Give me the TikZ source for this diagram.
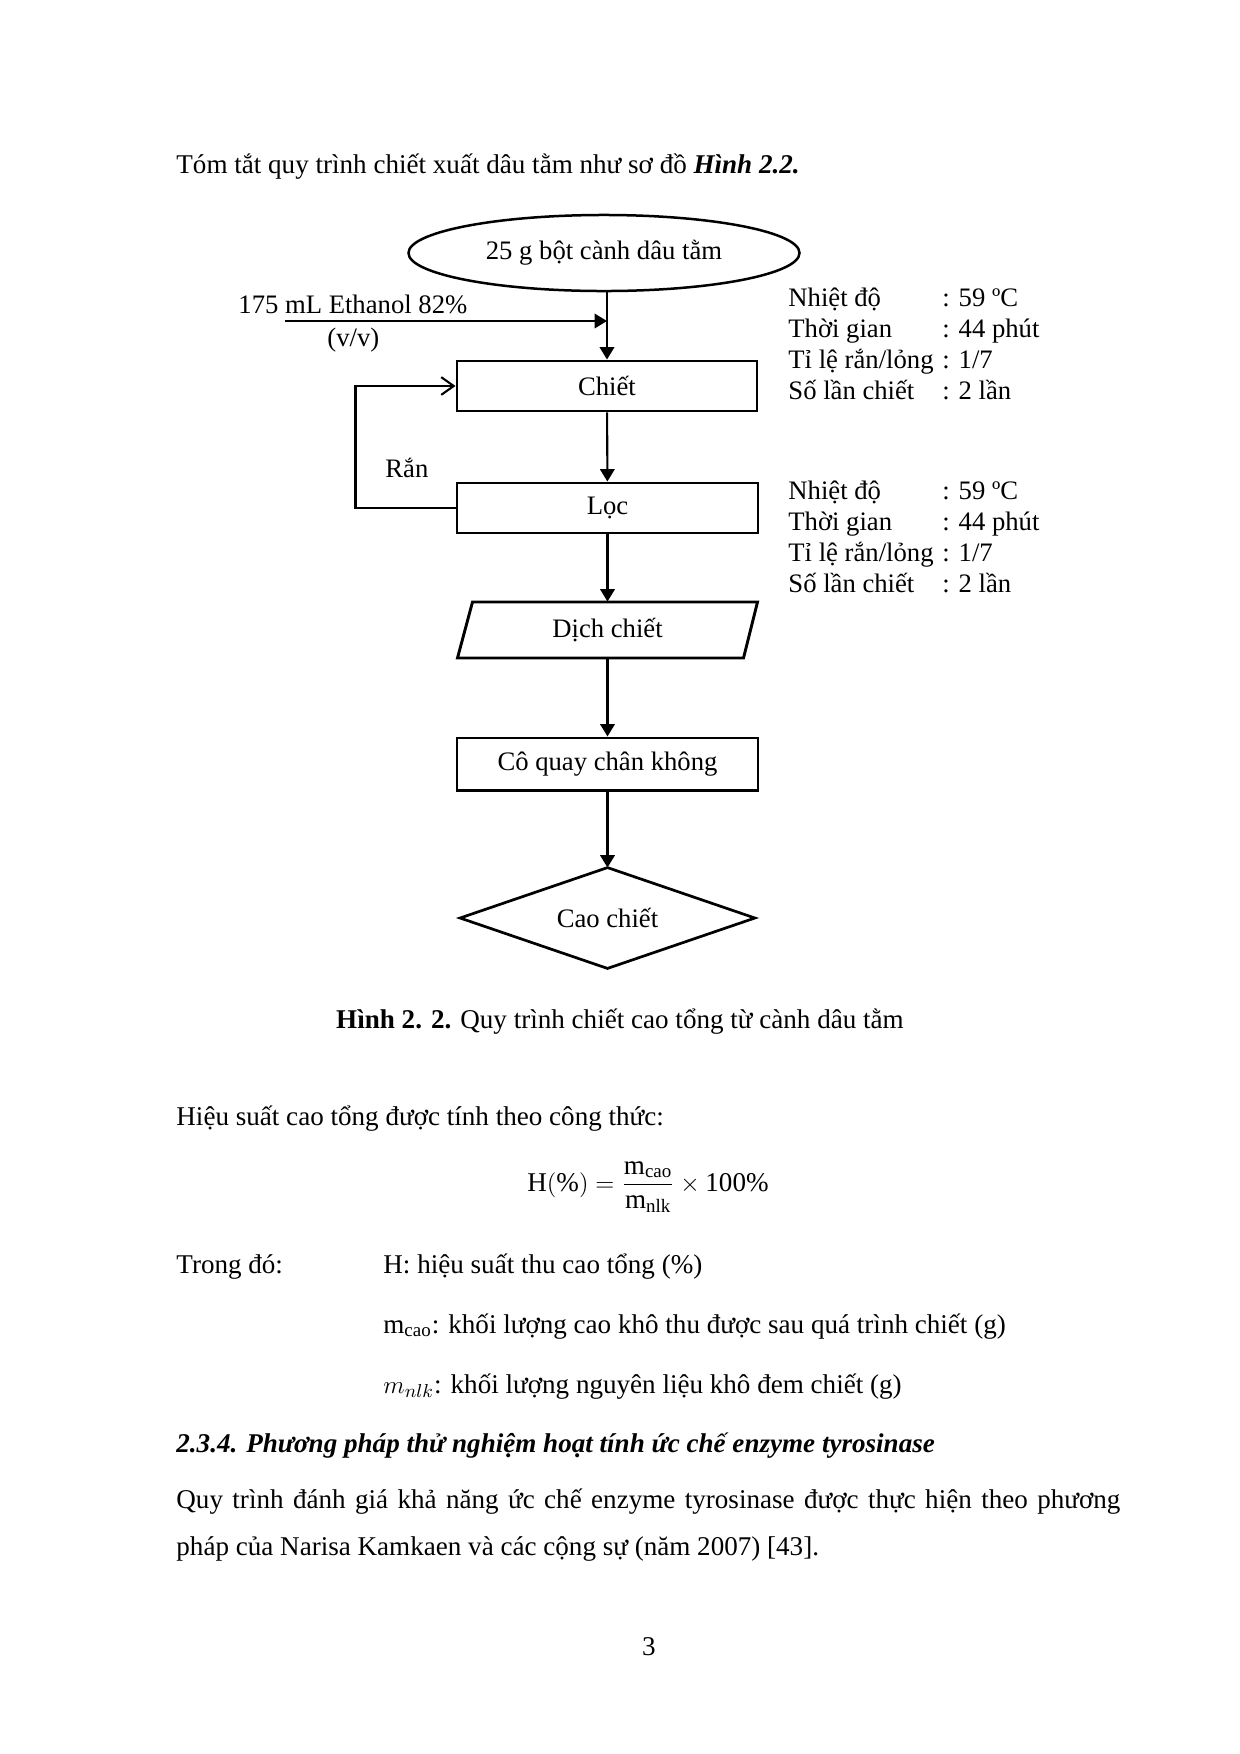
\documentclass[tikz,border=0pt]{standalone}
\usepackage{fontspec}
\setmainfont{Liberation Serif}
\usetikzlibrary{shapes.geometric,arrows.meta,calc}
\begin{document}
\begin{tikzpicture}[x=0.48pt,y=-0.48pt,
  diag/.style={font=\fontsize{12.8pt}{15pt}\selectfont},
  lbl/.style={diag, anchor=base west, inner sep=0},
  body/.style={font=\fontsize{13pt}{15.6pt}\selectfont, anchor=base west, inner sep=0},
  procbox/.style={draw, line width=1.4pt, inner sep=0, diag, minimum height=24pt},
  arr/.style={line width=1pt, -{Triangle[length=6pt,width=7pt]}},
  openarr/.style={line width=1pt, -{Straight Barb[length=6pt,width=8.5pt]}}]
\useasboundingbox[fill=white] (0,0) rectangle (1240,1754);

% ---- text above
\node[body] (intro) at (176,173) {Tóm tắt quy trình chiết xuất dâu tằm như sơ đồ \textbf{\textit{Hình 2.2.}}};

% ---- flowchart
\node[ellipse, draw, line width=1.2pt, minimum width=187.7pt, minimum height=36.5pt, inner sep=0, diag] (src) at (604,253) {25 g bột cành dâu tằm};
\node[procbox, minimum width=144pt] (chiet) at (607,386) {Chiết};
\node[procbox, minimum width=144.5pt] (loc) at (607.5,508) {Lọc};
\node[diag, minimum width=130pt, minimum height=26.9pt, inner sep=0] (dich) at (607.5,630) {Dịch chiết};
\draw[line width=1.4pt] ($(dich)+(-150,28)$) -- ($(dich)+(136,28)$) -- ($(dich)+(150,-28)$) -- ($(dich)+(-135,-28)$) -- cycle;
\node[procbox, minimum width=144.5pt, minimum height=25pt] (coquay) at (607.5,764) {Cô quay chân không};
\node[diag, minimum width=141.1pt, minimum height=48pt, inner sep=0] (cao) at (607.5,918) {Cao chiết};
\draw[line width=1.3pt] (cao.north) -- (cao.east) -- (cao.south) -- (cao.west) -- cycle;

% ethanol input
\coordinate (eth) at (285,321);
\node[lbl] (ethlbl) at (238,313) {175 mL Ethanol 82\%};
\node[lbl] (vv) at (327,346) {(v/v)};
\node[lbl] (ran) at (385,477) {Rắn};

% connectors
\draw[arr] (chiet |- src.south) -- (chiet.north);
\draw[arr] (eth) -- (eth -| chiet);
\draw[arr] (chiet) -- (loc);
\draw[openarr] (loc.west) -- ++(-100,0) |- (chiet.west);
\draw[arr] (loc) -- (dich);
\draw[arr] (dich) -- (coquay);
\draw[arr] (coquay) -- (cao.north);

% annotations
\foreach \blk/\y in {a/306,b/499}{
  \node[lbl] (\blk1) at (788,\y) {Nhiệt độ};
  \node[lbl] (\blk2) at (788,\y+31) {Thời gian};
  \node[lbl] (\blk3) at (788,\y+62) {Tỉ lệ rắn/lỏng};
  \node[lbl] (\blk4) at (788,\y+93) {Số lần chiết};
  \node[lbl] (\blk v1) at (942,\y) {: 59 ºC};
  \node[lbl] (\blk v2) at (942,\y+31) {: 44 phút};
  \node[lbl] (\blk v3) at (942,\y+62) {: 1/7};
  \node[lbl] (\blk v4) at (942,\y+93) {: 2 lần};
}

% ---- caption and text below
\node[body, anchor=base] (cap) at (620,1028) {\textbf{Hình 2. 2.} Quy trình chiết cao tổng từ cành dâu tằm};
\node[body] (hs) at (176,1125) {Hiệu suất cao tổng được tính theo công thức:};
\node[body, anchor=center] (formula) at (648,1187) {$\displaystyle \mathrm{H(\%)} = \frac{\mathrm{m}_{\mathrm{cao}}}{\mathrm{m}_{\mathrm{nlk}}} \times \mathrm{100\%}$};
\node[body] (trong) at (176,1273) {Trong đó:};
\node[body] (def1) at (383,1273) {H: hiệu suất thu cao tổng (\%)};
\node[body] (def2) at (383,1333) {$\mathrm{m}_{\mathrm{cao}}$: khối lượng cao khô thu được sau quá trình chiết (g)};
\node[body] (def3) at (383,1393) {$m_{nlk}$: khối lượng nguyên liệu khô đem chiết (g)};
\node[body] (head) at (176,1452) {\textbf{\textit{2.3.4. Phương pháp thử nghiệm hoạt tính ức chế enzyme tyrosinase}}};
\node[body] (p1) at (176,1508) {\hbox to 453.1pt{Quy trình đánh giá khả năng ức chế enzyme tyrosinase được thực hiện theo phương}};
\node[body] (p2) at (176,1555) {pháp của Narisa Kamkaen và các cộng sự (năm 2007) [43].};
\node[body, anchor=base] (pg) at (649,1655) {3};
\end{tikzpicture}
\end{document}
